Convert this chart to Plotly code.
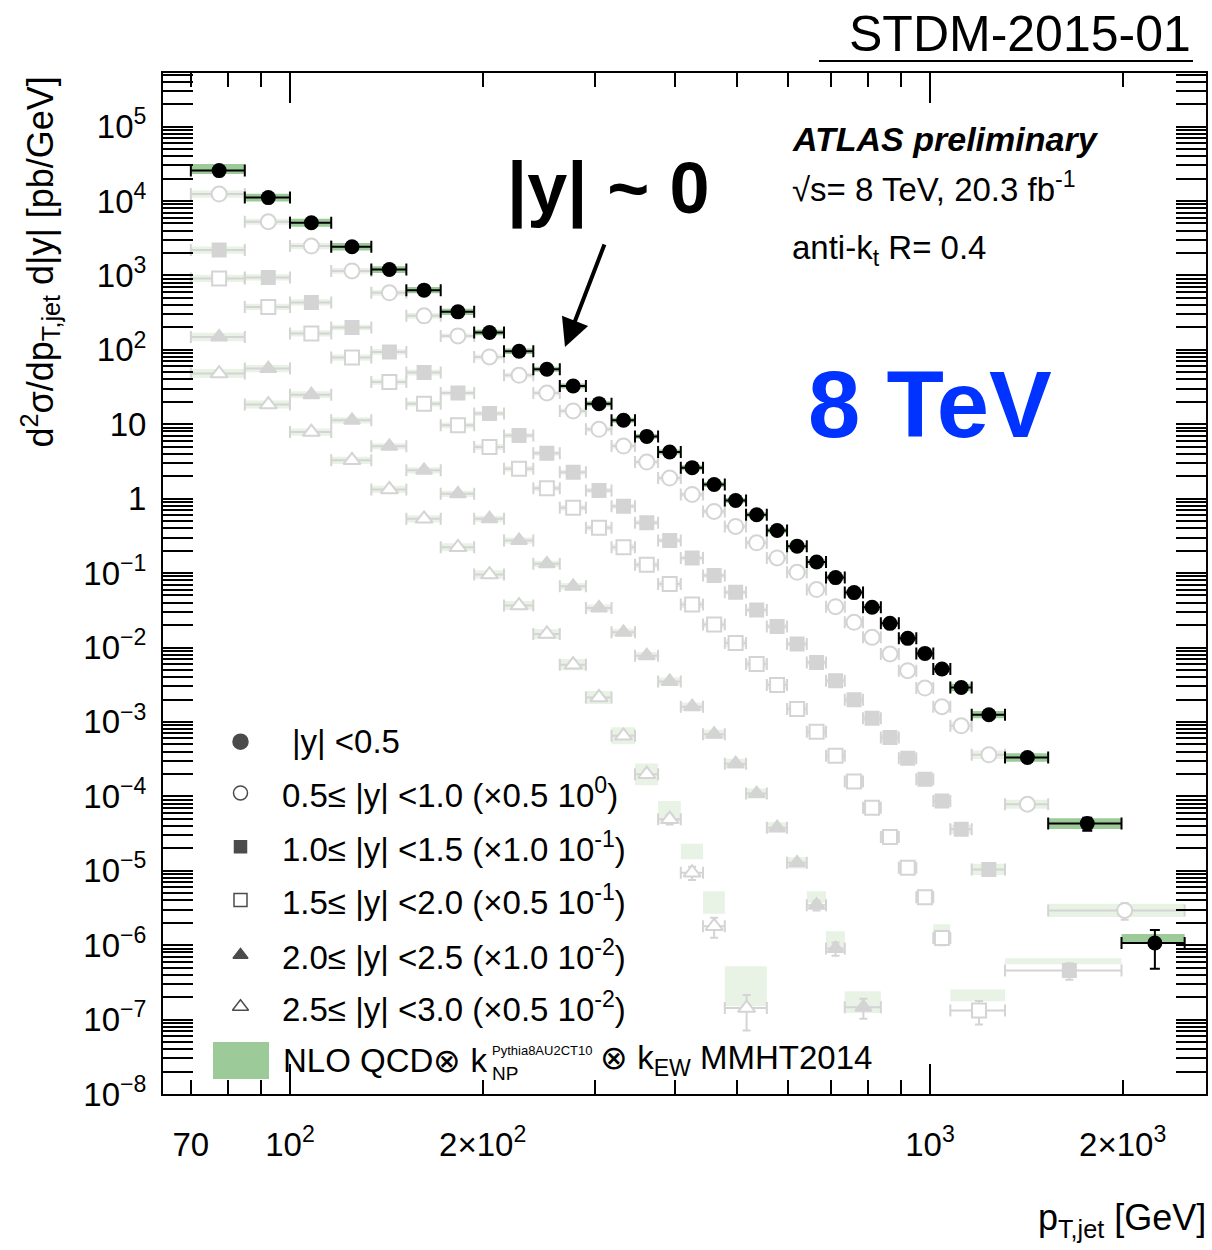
import plotly.graph_objects as go

# ---------------- data (values as plotted, i.e. already multiplied by the legend scale factors) -------------
y0_edges = [70, 85, 100, 116, 134, 152, 172, 194, 216, 240, 264, 290, 318, 346, 376, 408, 442, 478, 516,
            556, 598, 642, 688, 736, 786, 838, 894, 952, 1012, 1076, 1162, 1310, 1530, 1992, 2500]
y1_edges = [70, 85, 100, 116, 134, 152, 172, 194, 216, 240, 264, 290, 318, 346, 376, 408, 442, 478, 516,
            556, 598, 642, 688, 736, 786, 838, 894, 952, 1012, 1076, 1162, 1310, 1530, 2500]
y2_edges = [70, 85, 100, 116, 134, 152, 172, 194, 216, 240, 264, 290, 318, 346, 376, 408, 442, 478, 516,
            556, 598, 642, 688, 736, 786, 838, 894, 952, 1012, 1076, 1162, 1310, 1992]
y3_edges = [70, 85, 100, 116, 134, 152, 172, 194, 216, 240, 264, 290, 318, 346, 376, 408, 442, 478, 516,
            556, 598, 642, 688, 736, 786, 838, 894, 952, 1012, 1076, 1310]
y4_edges = [70, 85, 100, 116, 134, 152, 172, 194, 216, 240, 264, 290, 318, 346, 376, 408, 442, 478, 516,
            556, 598, 642, 688, 736, 838]
y5_edges = [70, 85, 100, 116, 134, 152, 172, 194, 216, 240, 264, 290, 318, 346, 376, 408, 442, 478, 556]

y0_vals = [2.56e4, 1.11e4, 5.1e3, 2.43e3, 1.2e3, 634, 324, 171, 95.7, 54.8,
           32.7, 18.9, 11.3, 6.87, 4.23, 2.61, 1.55, 0.946, 0.607, 0.373,
           0.230, 0.1406, 0.0869, 0.0547, 0.0347, 0.0211, 0.01327, 0.00833, 0.00514, 0.0029,
           0.00125, 3.32e-4, 4.3e-5, 1.07e-6]
y1_vals = [1.24e4, 5.26e3, 2.48e3, 1.15e3, 583, 286, 154, 80.2, 45.5, 26.3,
           15.1, 8.54, 5.09, 3.10, 1.89, 1.14, 0.673, 0.423, 0.255, 0.160,
           0.1025, 0.060, 0.0354, 0.0218, 0.01368, 0.00818, 0.00488, 0.00285, 0.0016, 8.86e-4,
           3.61e-4, 7.83e-5, 2.93e-6]
y2_vals = [2.19e3, 940, 434, 200, 93.8, 49.4, 26.3, 13.9, 7.08, 4.09,
           2.27, 1.29, 0.792, 0.474, 0.274, 0.160, 0.0925, 0.0552, 0.032, 0.0191,
           0.01115, 0.0063, 3.57e-3, 1.98e-3, 1.12e-3, 6.17e-4, 3.26e-4, 1.70e-4, 8.67e-5, 3.61e-5,
           1.04e-5, 4.57e-7]
y3_vals = [912, 377, 166, 78.7, 37, 18.9, 9.66, 4.93, 2.52, 1.38,
           0.755, 0.406, 0.222, 0.129, 0.0716, 0.0377, 0.0203, 0.0115, 0.006, 0.00313,
           0.00149, 7.36e-4, 3.5e-4, 1.58e-4, 7.05e-5, 2.84e-5, 1.1e-5, 4.42e-6, 1.25e-6, 1.32e-7]
y4_vals = [149, 56, 25, 11.3, 5.05, 2.4, 1.16, 0.537, 0.274, 0.133,
           0.0664, 0.034, 0.016, 7.76e-3, 3.5e-3, 1.6e-3, 6.85e-4, 2.75e-4, 1.09e-4, 3.79e-5,
           1.28e-5, 3.45e-6, 9.02e-7, 1.47e-7]
y5_vals = [48, 18.4, 7.85, 3.27, 1.33, 0.536, 0.222, 0.0955, 0.0366, 0.0152,
           5.87e-3, 2.13e-3, 6.5e-4, 1.98e-4, 4.92e-5, 9.4e-6, 1.8e-6, 1.43e-7]

# relative data uncertainties (up / down)
y0_err_up = [0.05] * 30 + [0.10, 0.12, 0.20, 0.50]
y0_err_dn = [0.05] * 30 + [0.10, 0.12, 0.20, 0.55]
y1_err = [0.05] * 30 + [0.10, 0.15, 0.25]
y2_err = [0.05] * 29 + [0.10, 0.15, 0.25]
y3_err = [0.05] * 27 + [0.12, 0.20, 0.35]
y4_err = [0.05] * 21 + [0.15, 0.20, 0.30]
y5_err = [0.05] * 14 + [0.15, 0.20, 0.30, 0.50]

# NLO QCD x k_NP x k_EW prediction: ratio to data and relative band half-width
y0_nlo_ratio = [1.05] + [1.0] * 32 + [1.15]
y0_nlo_unc = [0.17, 0.13, 0.13, 0.12, 0.11, 0.10, 0.10, 0.09, 0.09, 0.08,
              0.08, 0.08, 0.08, 0.08, 0.08, 0.08, 0.08, 0.08, 0.08, 0.09,
              0.09, 0.09, 0.09, 0.09, 0.10, 0.10, 0.10, 0.11, 0.11, 0.12,
              0.12, 0.14, 0.18, 0.15]
y1_nlo_ratio = [1.0] * 33
y1_nlo_unc = [0.12, 0.10, 0.10, 0.09, 0.09, 0.09, 0.08, 0.08, 0.08, 0.08,
              0.08, 0.08, 0.08, 0.08, 0.08, 0.08, 0.08, 0.08, 0.08, 0.08,
              0.09, 0.09, 0.09, 0.10, 0.10, 0.10, 0.11, 0.12, 0.12, 0.13,
              0.14, 0.15, 0.23]
y2_nlo_ratio = [1.0] * 31 + [1.33]
y2_nlo_unc = [0.12, 0.10, 0.10, 0.09, 0.09, 0.09, 0.08, 0.08, 0.08, 0.08,
              0.08, 0.08, 0.08, 0.08, 0.08, 0.08, 0.08, 0.08, 0.08, 0.08,
              0.09, 0.09, 0.10, 0.10, 0.11, 0.12, 0.13, 0.14, 0.15, 0.16,
              0.19, 0.10]
y3_nlo_ratio = [1.0] * 28 + [1.34, 1.6]
y3_nlo_unc = [0.12, 0.10, 0.10, 0.10, 0.09, 0.09, 0.09, 0.09, 0.09, 0.09,
              0.09, 0.09, 0.10, 0.10, 0.10, 0.11, 0.11, 0.12, 0.12, 0.13,
              0.14, 0.15, 0.16, 0.17, 0.18, 0.19, 0.20, 0.20, 0.14, 0.20]
y4_nlo_ratio = [1.0] * 21 + [1.28, 1.32, 1.17]
y4_nlo_unc = [0.14, 0.12, 0.11, 0.10, 0.10, 0.10, 0.10, 0.10, 0.10, 0.10,
              0.11, 0.11, 0.12, 0.12, 0.13, 0.14, 0.15, 0.16, 0.17, 0.18,
              0.19, 0.20, 0.29, 0.40]
y5_nlo_ratio = [1.0] * 14 + [1.23, 1.93, 2.08, 1.96]
y5_nlo_unc = [0.15, 0.13, 0.12, 0.12, 0.12, 0.12, 0.13, 0.14, 0.15, 0.17,
              0.19, 0.22, 0.30, 0.40, 0.43, 0.27, 0.42, 0.86]

legend_labels = [
    "|y| &lt;0.5",
    "0.5≤ |y| &lt;1.0 (×0.5 10<sup>0</sup>)",
    "1.0≤ |y| &lt;1.5 (×1.0 10<sup>-1</sup>)",
    "1.5≤ |y| &lt;2.0 (×0.5 10<sup>-1</sup>)",
    "2.0≤ |y| &lt;2.5 (×1.0 10<sup>-2</sup>)",
    "2.5≤ |y| &lt;3.0 (×0.5 10<sup>-2</sup>)",
]
x_tickvals = [70, 100, 200, 1000, 2000]
x_ticktext = ["70", "10<sup>2</sup>", "2×10<sup>2</sup>", "10<sup>3</sup>", "2×10<sup>3</sup>"]
y_exponents = list(range(-8, 6))

# ---------------- layout constants -------------
W, H = 1212, 1250
L, R, T, B = 163, 1206, 73, 1094
XRANGE = [1.8016, 3.4313]
YRANGE = [-8.0, 5.72]
FONT = "Liberation Sans, Arial, Helvetica, sans-serif"
GRAY = "#d4d4d4"
BAND_DARK = "#9ccb99"
BAND_LIGHT = "#e8f3e5"


def px(x):
    return (x - L) / (R - L)


def py(y):
    return (B - y) / (B - T)


def band_xy(edges, vals, ratio, unc):
    xs, ys = [], []
    for i, v in enumerate(vals):
        c = v * ratio[i]
        f = 1.0 + unc[i]
        lo, hi = c / f, c * f
        x0, x1 = edges[i], edges[i + 1]
        xs += [x0, x1, x1, x0, x0, None]
        ys += [lo, lo, hi, hi, lo, None]
    return xs, ys


def centers(edges):
    return [(edges[i] + edges[i + 1]) / 2.0 for i in range(len(edges) - 1)]


fig = go.Figure()

series = [
    # edges, vals, err_up, err_dn, ratio, unc, symbol, size, fill, line
    (y5_edges, y5_vals, y5_err, y5_err, y5_nlo_ratio, y5_nlo_unc, "triangle-up", 15, "white", GRAY),
    (y4_edges, y4_vals, y4_err, y4_err, y4_nlo_ratio, y4_nlo_unc, "triangle-up", 14, GRAY, GRAY),
    (y3_edges, y3_vals, y3_err, y3_err, y3_nlo_ratio, y3_nlo_unc, "square", 14, "white", GRAY),
    (y2_edges, y2_vals, y2_err, y2_err, y2_nlo_ratio, y2_nlo_unc, "square", 13, GRAY, GRAY),
    (y1_edges, y1_vals, y1_err, y1_err, y1_nlo_ratio, y1_nlo_unc, "circle", 15, "white", GRAY),
]

# light theory bands for the gray series
for edges, vals, eu, ed, ratio, unc, sym, size, fillc, linec in series:
    bx, by = band_xy(edges, vals, ratio, unc)
    fig.add_trace(go.Scatter(x=bx, y=by, mode="lines", fill="toself", fillcolor=BAND_LIGHT,
                             line=dict(width=0), hoverinfo="skip", showlegend=False))

# gray data points
for edges, vals, eu, ed, ratio, unc, sym, size, fillc, linec in series:
    xc = centers(edges)
    fig.add_trace(go.Scatter(
        x=xc, y=vals, mode="markers", showlegend=False,
        marker=dict(symbol=sym, size=size, color=fillc, line=dict(color=linec, width=2)),
        error_x=dict(type="data", symmetric=False,
                     array=[edges[i + 1] - xc[i] for i in range(len(xc))],
                     arrayminus=[xc[i] - edges[i] for i in range(len(xc))],
                     color=GRAY, thickness=2, width=6),
        error_y=dict(type="data", symmetric=False,
                     array=[vals[i] * eu[i] for i in range(len(vals))],
                     arrayminus=[vals[i] * ed[i] for i in range(len(vals))],
                     color=GRAY, thickness=2, width=4),
    ))

# |y|<0.5 : dark band + black points
bx, by = band_xy(y0_edges, y0_vals, y0_nlo_ratio, y0_nlo_unc)
fig.add_trace(go.Scatter(x=bx, y=by, mode="lines", fill="toself", fillcolor=BAND_DARK,
                         line=dict(width=0), hoverinfo="skip", showlegend=False))
xc0 = centers(y0_edges)
fig.add_trace(go.Scatter(
    x=xc0, y=y0_vals, mode="markers", showlegend=False,
    marker=dict(symbol="circle", size=15, color="black"),
    error_x=dict(type="data", symmetric=False,
                 array=[y0_edges[i + 1] - xc0[i] for i in range(len(xc0))],
                 arrayminus=[xc0[i] - y0_edges[i] for i in range(len(xc0))],
                 color="black", thickness=2, width=6),
    error_y=dict(type="data", symmetric=False,
                 array=[y0_vals[i] * y0_err_up[i] for i in range(len(y0_vals))],
                 arrayminus=[y0_vals[i] * y0_err_dn[i] for i in range(len(y0_vals))],
                 color="black", thickness=2, width=5),
))

# dummy trace for the overlay axis carrying the long major x ticks
fig.add_trace(go.Scatter(x=[None], y=[None], xaxis="x2", yaxis="y", showlegend=False, hoverinfo="skip"))

# legend markers on a pixel-space overlay axis
leg_y = [741.7, 793, 846.7, 900, 955, 1006.7]
fig.add_trace(go.Scatter(
    x=[240.5] * 6, y=leg_y, xaxis="x3", yaxis="y3", mode="markers", showlegend=False, hoverinfo="skip",
    marker=dict(symbol=["circle", "circle", "square", "square", "triangle-up", "triangle-up"],
                size=[15, 14, 12, 13, 13, 14],
                color=["black", "white", "black", "white", "black", "white"],
                line=dict(color="black", width=1.5)),
))

y_ticktext = []
for k in y_exponents:
    if k == 0:
        y_ticktext.append("1")
    elif k == 1:
        y_ticktext.append("10")
    elif k < 0:
        y_ticktext.append("10<sup>\u2212%d</sup>" % (-k))
    else:
        y_ticktext.append("10<sup>%d</sup>" % k)
y_minor = [m * 10.0 ** k for k in y_exponents for m in range(2, 10)]

tickfont = dict(family=FONT, size=33, color="black")

fig.update_layout(
    width=W, height=H,
    margin=dict(l=L, r=W - R, t=T, b=H - B, pad=0),
    paper_bgcolor="white", plot_bgcolor="white",
    showlegend=False,
    font=dict(family=FONT, color="black"),
    xaxis=dict(type="log", range=XRANGE, showline=True, linecolor="black", linewidth=2,
               mirror="allticks", ticks="inside", ticklen=14, tickwidth=2, tickcolor="black",
               tickmode="array", tickvals=x_tickvals, ticktext=x_ticktext, tickfont=tickfont,
               ticklabelstandoff=20, showgrid=False, zeroline=False, automargin=False,
               minor=dict(tickmode="array", tickvals=[80, 90, 300, 400, 500, 600, 700, 800, 900],
                          ticks="inside", ticklen=14, tickwidth=2, tickcolor="black", showgrid=False)),
    xaxis2=dict(type="log", range=XRANGE, overlaying="x", anchor="y", side="bottom",
                showline=True, linecolor="black", linewidth=2, mirror="allticks",
                ticks="inside", ticklen=30, tickwidth=2, tickcolor="black",
                tickmode="array", tickvals=[100, 1000], showticklabels=False,
                showgrid=False, zeroline=False, automargin=False),
    yaxis=dict(type="log", range=YRANGE, showline=True, linecolor="black", linewidth=2,
               mirror="allticks", ticks="inside", ticklen=30, tickwidth=2, tickcolor="black",
               tickmode="array", tickvals=[10.0 ** k for k in y_exponents], ticktext=y_ticktext,
               tickfont=tickfont, ticklabelstandoff=8, showgrid=False, zeroline=False, automargin=False,
               minor=dict(tickmode="array", tickvals=y_minor, ticks="inside", ticklen=15,
                          tickwidth=2, tickcolor="black", showgrid=False)),
    xaxis3=dict(range=[L, R], overlaying="x", anchor="y3", visible=False, showgrid=False, zeroline=False),
    yaxis3=dict(range=[B, T], overlaying="y", anchor="x3", visible=False, showgrid=False, zeroline=False),
)

ann = []


def text(x, y, s, size, xanchor="left", yanchor="middle", color="black", angle=0):
    ann.append(dict(x=px(x), y=py(y), xref="paper", yref="paper", text=s, showarrow=False,
                    xanchor=xanchor, yanchor=yanchor, textangle=angle,
                    font=dict(family=FONT, size=size, color=color)))


text(1193, 34, "STDM-2015-01", 50, xanchor="right")
text(790, 139, "<b><i>ATLAS preliminary</i></b>", 34)
text(790, 187, "√s= 8 TeV, 20.3 fb<sup>-1</sup>", 33)
text(790, 250, "anti-k<sub>t</sub> R= 0.4", 33)
text(505, 188, "<b>|y| ~ 0</b>", 72)
text(806, 404, "<b>8 TeV</b>", 94, color="#0033ff")

for i, lab in enumerate(legend_labels):
    text(290 if i == 0 else 280, leg_y[i], lab, 33)

text(281, 1060, "NLO QCD⊗ k", 33)
text(490, 1050, "Pythia8AU2CT10", 13)
text(490, 1073, "NP", 19)
text(598, 1060, "⊗ k<sub>EW</sub> MMHT2014", 33)

# axis titles
text(40, 75, "d<sup>2</sup>σ/dp<sub>T,jet</sub> d|y| [pb/GeV]", 36, xanchor="center", yanchor="top", angle=-90)
text(1208, 1220, "p<sub>T,jet</sub> [GeV]", 36, xanchor="right")

# arrow pointing at the |y|<0.5 data
ann.append(dict(x=px(565), y=py(347), xref="paper", yref="paper", text="", showarrow=True,
                ax=40, ay=-104, arrowhead=2, arrowsize=1.4, arrowwidth=4, arrowcolor="black", standoff=0))

fig.update_layout(annotations=ann)

shapes = [
    dict(type="rect", xref="paper", yref="paper", x0=px(213), x1=px(269), y0=py(1079), y1=py(1042),
         fillcolor=BAND_DARK, line=dict(width=0)),
    dict(type="line", xref="paper", yref="paper", x0=px(819), x1=px(1193), y0=py(61), y1=py(61),
         line=dict(color="black", width=2)),
]
fig.update_layout(shapes=shapes)

fig.write_html("out.html", config={"displayModeBar": False},
               post_script="document.body.style.margin='0px';document.body.style.padding='0px';")
